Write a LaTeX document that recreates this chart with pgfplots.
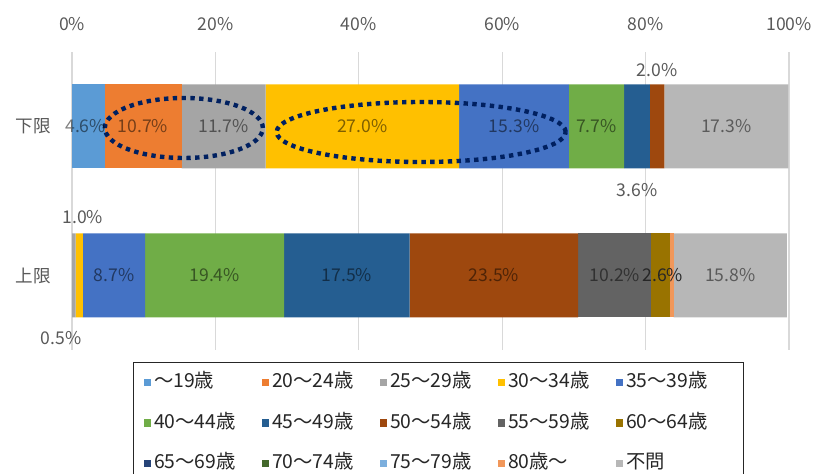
\documentclass[border=0pt]{standalone}
\usepackage{pgfplots}
\pgfplotsset{compat=1.18}
\usepackage{fontspec}
\setmainfont{Noto Sans CJK JP}

\definecolor{c1}{HTML}{5B9BD5}
\definecolor{c2}{HTML}{ED7D31}
\definecolor{c3}{HTML}{A5A5A5}
\definecolor{c4}{HTML}{FFC000}
\definecolor{c5}{HTML}{4472C4}
\definecolor{c6}{HTML}{70AD47}
\definecolor{c7}{HTML}{255E91}
\definecolor{c8}{HTML}{9E480E}
\definecolor{c9}{HTML}{636363}
\definecolor{c10}{HTML}{997300}
\definecolor{c11}{HTML}{264478}
\definecolor{c12}{HTML}{43682B}
\definecolor{c13}{HTML}{7CAFDD}
\definecolor{c14}{HTML}{F1975A}
\definecolor{c15}{HTML}{B7B7B7}
\definecolor{gridc}{HTML}{D9D9D9}
\definecolor{tickc}{HTML}{595959}
\definecolor{navy}{HTML}{002060}

\begin{document}
\begin{tikzpicture}
\useasboundingbox (0,0) rectangle (16.26cm,9.48cm);

% bars: y=1 upper limit (上限), y=2 lower limit (下限)
\begin{axis}[
  at={(1.44cm,8.44cm)}, anchor=north west,
  scale only axis, width=14.34cm, height=5.96cm,
  xbar stacked, bar width=1.68cm,
  xmin=0, xmax=100, ymin=0.5, ymax=2.5,
  ytick={1,2}, yticklabels={上限,下限},
  xtick={0,20,40,60,80,100},
  xticklabels={0\%,20\%,40\%,60\%,80\%,100\%},
  xticklabel pos=upper,
  axis line style={draw=none}, major tick length=0pt,
  xmajorgrids, grid style={draw=gridc, line width=0.6pt},
  ticklabel style={text=tickc, font=\fontsize{10}{12}\selectfont},
  xticklabel style={yshift=0.3cm},
  yticklabel style={xshift=-0.3cm},
  legend image code/.code={\fill[#1,draw=none] (0cm,-0.075cm) rectangle (0.15cm,0.075cm);},
  legend columns=5,
  legend cell align=left,
  legend style={at={(0.0851,-0.0403)}, anchor=north west,
    draw=black!85, line width=0.7pt,
    inner xsep=0.2cm, inner ysep=0.22cm,
    row sep=0.46cm, column sep=0pt,
    font=\fontsize{11}{13}\selectfont, text=black!85,
    nodes={inner xsep=0.06cm, inner ysep=0pt, text width=2.09cm,
      text height=8pt, text depth=2pt, align=left}},
]
\addplot[fill=c1, draw=none] coordinates {(0,1) (4.6,2)};
\addlegendentry{〜19歳}
\addplot[fill=c2, draw=none] coordinates {(0,1) (10.7,2)};
\addlegendentry{20〜24歳}
\addplot[fill=c3, draw=none] coordinates {(0.5,1) (11.7,2)};
\addlegendentry{25〜29歳}
\addplot[fill=c4, draw=none] coordinates {(1.0,1) (27.0,2)};
\addlegendentry{30〜34歳}
\addplot[fill=c5, draw=none] coordinates {(8.7,1) (15.3,2)};
\addlegendentry{35〜39歳}
\addplot[fill=c6, draw=none] coordinates {(19.4,1) (7.7,2)};
\addlegendentry{40〜44歳}
\addplot[fill=c7, draw=none] coordinates {(17.5,1) (3.6,2)};
\addlegendentry{45〜49歳}
\addplot[fill=c8, draw=none] coordinates {(23.5,1) (2.0,2)};
\addlegendentry{50〜54歳}
\addplot[fill=c9, draw=none] coordinates {(10.2,1) (0,2)};
\addlegendentry{55〜59歳}
\addplot[fill=c10, draw=none] coordinates {(2.6,1) (0,2)};
\addlegendentry{60〜64歳}
\addplot[fill=c11, draw=none] coordinates {(0,1) (0,2)};
\addlegendentry{65〜69歳}
\addplot[fill=c12, draw=none] coordinates {(0,1) (0,2)};
\addlegendentry{70〜74歳}
\addplot[fill=c13, draw=none] coordinates {(0,1) (0,2)};
\addlegendentry{75〜79歳}
\addplot[fill=c14, draw=none] coordinates {(0.5,1) (0,2)};
\addlegendentry{80歳〜}
\addplot[fill=c15, draw=none] coordinates {(15.8,1) (17.3,2)};
\addlegendentry{不問}
\end{axis}

% data labels and highlight ellipses
\begin{axis}[
  at={(1.44cm,8.44cm)}, anchor=north west,
  scale only axis, width=14.34cm, height=5.96cm,
  xmin=0, xmax=100, ymin=0.5, ymax=2.5,
  hide axis, clip=false,
  every node near coord/.append style={anchor=center, font=\fontsize{10}{12}\selectfont},
]
\addplot[only marks, mark=*, mark size=0pt, mark options={draw=none,fill=none},
  nodes near coords, point meta=explicit symbolic,
  every node near coord/.append style={text=black, text opacity=0.5}]
  coordinates {
  (1.9,2)[4.6\%] (9.9,2)[10.7\%] (21.15,2)[11.7\%] (40.5,2)[27.0\%]
  (61.65,2)[15.3\%] (73.15,2)[7.7\%] (91.25,2)[17.3\%]
  (5.85,1)[8.7\%] (19.9,1)[19.4\%] (38.35,1)[17.5\%] (58.85,1)[23.5\%]
  (75.7,1)[10.2\%] (91.8,1)[15.8\%]
  };
\addplot[only marks, mark=*, mark size=0pt, mark options={draw=none,fill=none},
  nodes near coords, point meta=explicit symbolic,
  every node near coord/.append style={text=tickc}]
  coordinates {
  (81.6,2.38)[2.0\%] (78.8,1.574)[3.6\%] (1.5,1.393)[1.0\%] (-1.5,0.58)[0.5\%]
  };
\addplot[only marks, mark=*, mark size=0pt, mark options={draw=none,fill=none},
  nodes near coords, point meta=explicit symbolic,
  every node near coord/.append style={text=black!85}]
  coordinates {(82.4,1)[2.6\%]};
\draw[navy, line width=2.5pt, dash pattern=on 2.5pt off 2.5pt]
  (axis cs:15.6,1.99) ellipse [x radius=1.58cm, y radius=0.6cm];
\draw[navy, line width=2.5pt, dash pattern=on 2.5pt off 2.5pt]
  (axis cs:48.7,1.963) ellipse [x radius=2.89cm, y radius=0.6cm];
\end{axis}
\end{tikzpicture}
\end{document}
